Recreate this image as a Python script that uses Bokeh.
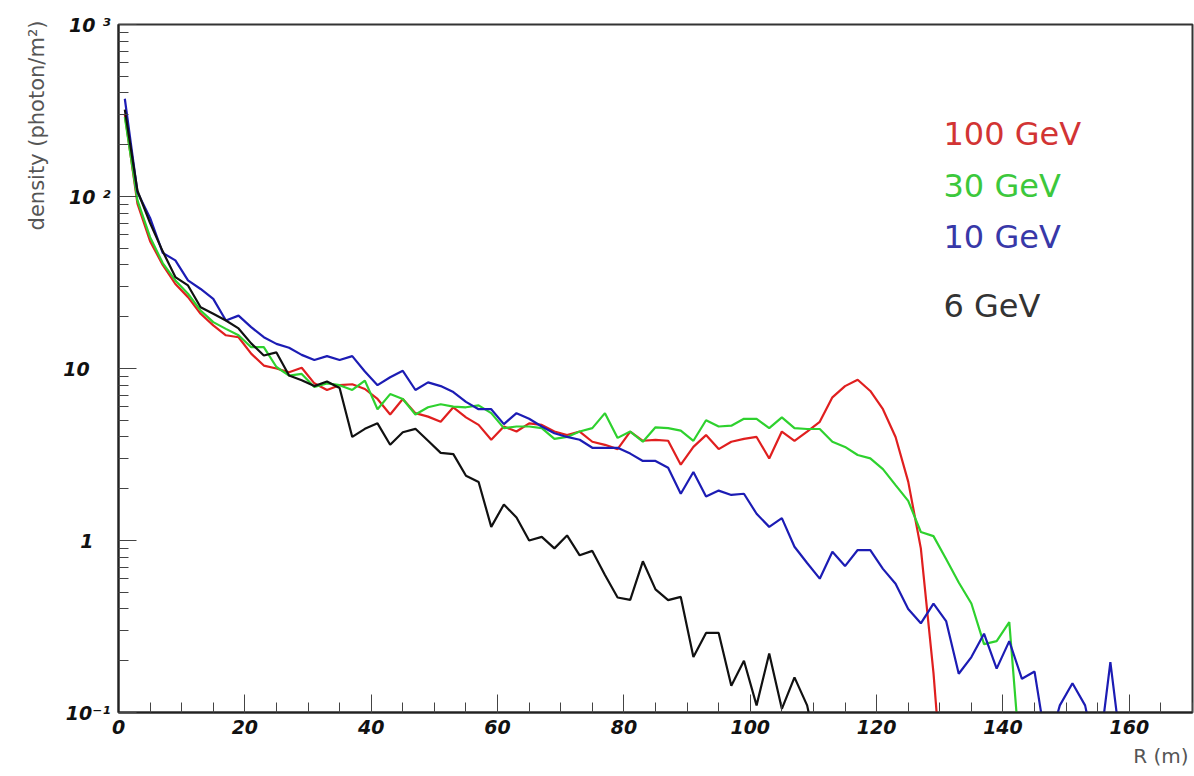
from bokeh.plotting import figure
from bokeh.models import FixedTicker, Label, Title
from bokeh.embed import file_html
from bokeh.resources import INLINE

# bin centres R (m)
R = [1, 3, 5, 7, 9, 11, 13, 15, 17, 19, 21, 23, 25, 27, 29, 31, 33, 35, 37, 39,
     41, 43, 45, 47, 49, 51, 53, 55, 57, 59, 61, 63, 65, 67, 69, 71, 73, 75, 77, 79,
     81, 83, 85, 87, 89, 91, 93, 95, 97, 99, 101, 103, 105, 107, 109, 111, 113, 115, 117, 119,
     121, 123, 125, 127, 129, 131, 133, 135, 137, 139, 141, 143, 145, 147, 149, 151, 153, 155, 157, 159]

# photon density (photon/m^2)
gev100 = [300, 91, 55, 40, 31, 26, 20.8, 17.8, 15.6, 15.2, 12.2, 10.4, 10.0, 9.5, 10.1, 8.2,
          7.5, 8.0, 8.1, 7.6, 6.65, 5.4, 6.65, 5.5, 5.25, 4.9, 5.95, 5.2, 4.7, 3.85, 4.6, 4.3,
          4.8, 4.7, 4.3, 4.1, 4.3, 3.75, 3.6, 3.4, 4.3, 3.8, 3.85, 3.8, 2.76, 3.5, 4.1, 3.4,
          3.75, 3.9, 4.0, 3.0, 4.3, 3.8, 4.3, 4.9, 6.8, 7.9, 8.6, 7.4, 5.8, 4.0, 2.2, 0.9,
          0.17, 0.02]
gev30 = [290, 95, 58, 41, 32.5, 27.2, 21.7, 18.6, 17, 15.6, 13.3, 13.3, 10.2, 9.1, 9.3, 7.8,
         8.2, 8.0, 7.5, 8.5, 5.8, 7.1, 6.65, 5.4, 5.95, 6.2, 6.0, 5.95, 6.1, 5.5, 4.5, 4.6,
         4.6, 4.5, 3.9, 4.0, 4.3, 4.5, 5.5, 3.95, 4.3, 3.75, 4.55, 4.5, 4.35, 3.8, 5.0, 4.6,
         4.65, 5.1, 5.1, 4.5, 5.2, 4.5, 4.45, 4.45, 3.75, 3.5, 3.14, 3.0, 2.6, 2.1, 1.7, 1.12,
         1.06, 0.78, 0.57, 0.43, 0.25, 0.26, 0.335, 0.04]
gev10 = [370, 106, 75, 47, 42.5, 32.5, 29, 25.4, 19, 20.3, 17.4, 15.2, 13.9, 13.2, 12.0, 11.2,
         11.8, 11.2, 11.8, 9.6, 8.0, 8.9, 9.7, 7.5, 8.3, 7.9, 7.3, 6.4, 5.8, 5.8, 4.75, 5.5,
         5.1, 4.6, 4.2, 4.0, 3.85, 3.46, 3.46, 3.46, 3.2, 2.9, 2.9, 2.65, 1.87, 2.5, 1.8, 1.95,
         1.84, 1.87, 1.43, 1.2, 1.35, 0.92, 0.74, 0.6, 0.86, 0.71, 0.88, 0.88, 0.684, 0.56, 0.40, 0.33,
         0.43, 0.34, 0.168, 0.21, 0.287, 0.18, 0.26, 0.157, 0.173, 0.06, 0.11, 0.148, 0.11, 0.05, 0.196, 0.05]
gev6 = [320, 108, 70, 48, 34, 30.4, 22.7, 20.8, 19, 17.1, 14, 11.9, 12.4, 9.1, 8.55, 7.9,
        8.4, 7.7, 4.0, 4.46, 4.8, 3.6, 4.26, 4.46, 3.8, 3.23, 3.18, 2.38, 2.19, 1.2, 1.62, 1.36,
        1.0, 1.05, 0.9, 1.07, 0.82, 0.87, 0.63, 0.466, 0.452, 0.757, 0.52, 0.45, 0.47, 0.21, 0.29, 0.29,
        0.143, 0.2, 0.11, 0.22, 0.105, 0.16, 0.11, 0.05]

series_names = ["100 GeV", "30 GeV", "10 GeV", "6 GeV"]
series_values = [gev100, gev30, gev10, gev6]
line_colors = ["#e01f1f", "#2ed12e", "#1c1cb4", "#111111"]
text_colors = ["#d23434", "#3cc83c", "#3838a8", "#333333"]

x_major = [0, 20, 40, 60, 80, 100, 120, 140, 160]
x_minor = [0, 5, 10, 15, 20, 25, 30, 35, 40, 45, 50, 55, 60, 65, 70, 75, 80, 85,
           90, 95, 100, 105, 110, 115, 120, 125, 130, 135, 140, 145, 150, 155, 160, 165, 170]
y_major = [0.1, 1.0, 10.0, 100.0, 1000.0]
y_minor = [0.2, 0.3, 0.4, 0.5, 0.6, 0.7, 0.8, 0.9,
           2, 3, 4, 5, 6, 7, 8, 9,
           20, 30, 40, 50, 60, 70, 80, 90,
           200, 300, 400, 500, 600, 700, 800, 900]
y_labels = {0.1: "10\u207b\u00b9", 1.0: "1\u2007\u2009", 10.0: "10\u2007\u2009\u2009",
            100.0: "10 \u00b2", 1000.0: "10 \u00b3"}

p = figure(width=1194, height=776, x_range=(0, 170), y_range=(0.1, 1000),
           y_axis_type="log", output_backend="svg", toolbar_location=None,
           min_border_left=118, min_border_right=2, min_border_top=24, min_border_bottom=64)

p.xgrid.grid_line_color = None
p.ygrid.grid_line_color = None
p.outline_line_color = "#333333"
p.outline_line_width = 2
p.background_fill_color = "white"
p.border_fill_color = "white"

for ax in (p.xaxis[0], p.yaxis[0]):
    ax.axis_line_width = 2
    ax.axis_line_color = "#222222"
    ax.major_tick_in = 18
    ax.major_tick_out = 0
    ax.minor_tick_in = 10
    ax.minor_tick_out = 0
    ax.major_tick_line_color = "#444444"
    ax.minor_tick_line_color = "#444444"
    ax.major_tick_line_width = 1
    ax.minor_tick_line_width = 1
    ax.major_label_text_font = "DejaVu Sans"
    ax.major_label_text_font_style = "bold italic"
    ax.major_label_text_font_size = "19px"
    ax.major_label_text_color = "#111111"

p.xaxis.ticker = FixedTicker(ticks=x_major, minor_ticks=x_minor)
p.yaxis.ticker = FixedTicker(ticks=y_major, minor_ticks=y_minor)
p.yaxis.major_label_overrides = y_labels
p.xaxis.major_label_standoff = 7
p.yaxis.major_label_standoff = 8

for vals, col in zip(series_values, line_colors):
    p.line(R[:len(vals)], vals, line_color=col, line_width=2.2)

# legend texts (screen units relative to the frame)
legend_y = [579, 527, 476, 407]
for name, col, ly in zip(series_names, text_colors, legend_y):
    p.add_layout(Label(x=825, y=ly, x_units="screen", y_units="screen", text=name,
                       text_font="DejaVu Sans", text_font_size="32px", text_color=col,
                       text_baseline="alphabetic", text_align="left"))

# axis titles as side titles (outside the frame)
p.add_layout(Title(text="density (photon/m\u00b2)", align="right", offset=-4, standoff=24,
                   text_font="DejaVu Sans", text_font_size="21px", text_font_style="normal",
                   text_color="#555555"), "left")
p.add_layout(Title(text="R (m)", align="right", offset=4, standoff=10,
                   text_font="DejaVu Sans", text_font_size="20px", text_font_style="normal",
                   text_color="#555555"), "below")

open("out.html", "w").write(file_html(p, INLINE))
